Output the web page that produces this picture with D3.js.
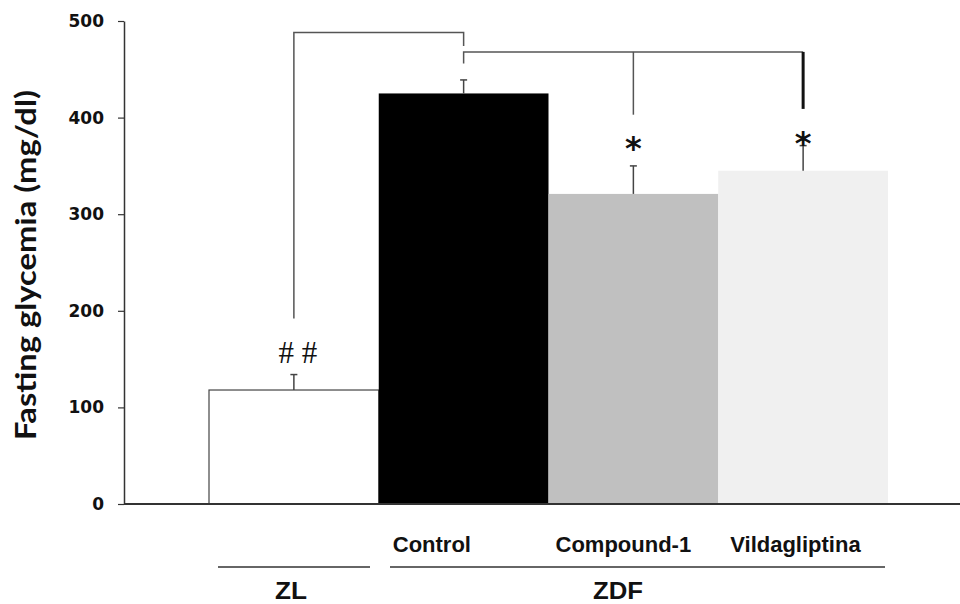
<!DOCTYPE html>
<html>
<head>
<meta charset="utf-8">
<script src="https://cdn.jsdelivr.net/npm/d3@7"></script>
<style>
  html, body { margin: 0; padding: 0; background: #fff; }
  svg { display: block; }
</style>
</head>
<body>
<svg id="chart" width="960" height="604"></svg>
<script>
// Fasting glycemia per group (mean and upper SEM, mg/dl)
const categories = ["ZL", "Control", "Compound-1", "Vildagliptina"];
const means = [118, 425, 321, 345];
const errors = [16, 14, 29, 26];
const barColors = ["#ffffff", "#000000", "#c0c0c0", "#f0f0f0"];
const yTicks = [0, 100, 200, 300, 400, 500];
const significance = ["# #", "", "*", "*"];
// level (mg/dl) at which each significance mark sits
const markLevels = [146, 0, 375, 380];

const svg = d3.select("#chart");

const y = d3.scaleLinear().domain([0, 500]).range([504, 21]);
const x = d3.scaleBand().domain(categories).range([209, 888]).padding(0);
const cx = c => x(c) + x.bandwidth() / 2;

// Bars
svg.append("g").selectAll("rect")
  .data(categories)
  .join("rect")
  .attr("x", c => x(c))
  .attr("y", (c, i) => y(means[i]))
  .attr("width", x.bandwidth())
  .attr("height", (c, i) => y(0) - y(means[i]))
  .attr("fill", (c, i) => barColors[i])
  .attr("stroke", (c, i) => i === 0 ? "#444" : "none")
  .attr("stroke-width", 1.2);

// Upper error bars with caps
const eb = svg.append("g").attr("stroke", "#444").attr("stroke-width", 1.5);
categories.forEach((c, i) => {
  const top = y(means[i] + errors[i]);
  eb.append("line").attr("x1", cx(c)).attr("x2", cx(c))
    .attr("y1", y(means[i])).attr("y2", top);
  eb.append("line").attr("x1", cx(c) - 3.5).attr("x2", cx(c) + 3.5)
    .attr("y1", top).attr("y2", top);
});

// Y axis
const yAxis = svg.append("g")
  .attr("transform", "translate(124,0)")
  .call(d3.axisLeft(y).tickValues(yTicks).tickSize(6).tickPadding(14).tickSizeOuter(0));
yAxis.select(".domain").attr("stroke", "#333").attr("stroke-width", 1.5);
yAxis.selectAll(".tick line").attr("stroke", "#333").attr("stroke-width", 1.2);
yAxis.selectAll(".tick text")
  .attr("font-family", "DejaVu Sans, Verdana, sans-serif")
  .attr("font-weight", "bold")
  .attr("font-size", 17)
  .attr("fill", "#111");

// Baseline
svg.append("line")
  .attr("x1", 124).attr("x2", 960)
  .attr("y1", y(0)).attr("y2", y(0))
  .attr("stroke", "#333").attr("stroke-width", 2);

// Y axis title
svg.append("text")
  .attr("transform", "translate(36,265) rotate(-90)")
  .attr("text-anchor", "middle")
  .attr("font-family", "Lato, 'Open Sans', sans-serif")
  .attr("font-weight", "bold")
  .attr("font-size", 29)
  .attr("textLength", 350)
  .attr("lengthAdjust", "spacingAndGlyphs")
  .attr("fill", "#111")
  .text("Fasting glycemia (mg/dl)");

// Comparison brackets (levels in mg/dl)
const br = svg.append("g").attr("fill", "none").attr("stroke", "#555").attr("stroke-width", 1.5);
const zl = cx("ZL"), ctl = cx("Control"), cmp = cx("Compound-1"), vil = cx("Vildagliptina");
br.append("path").attr("d",
  `M${zl},${y(192)} V${y(488)} H${ctl} V${y(474)}`);
br.append("path").attr("d",
  `M${ctl},${y(456)} V${y(468)} H${vil}`);
br.append("line").attr("x1", cmp).attr("x2", cmp).attr("y1", y(468)).attr("y2", y(403));
br.append("line").attr("x1", vil).attr("x2", vil).attr("y1", y(468)).attr("y2", y(409))
  .attr("stroke", "#111").attr("stroke-width", 3);

// Significance marks
svg.append("g").selectAll("text")
  .data(categories)
  .join("text")
  .attr("x", c => cx(c) + (c === "ZL" ? 4 : 0))
  .attr("y", (c, i) => y(markLevels[i]) + (c === "ZL" ? 0 : 17))
  .attr("text-anchor", "middle")
  .attr("font-family", c => c === "ZL" ? "Liberation Serif, serif" : "DejaVu Sans, sans-serif")
  .attr("font-weight", c => c === "ZL" ? "normal" : "bold")
  .attr("font-size", c => c === "ZL" ? 31 : 32)
  .attr("fill", "#111")
  .text((c, i) => significance[i]);

// Category labels (left-aligned inside each bar slot)
const labelInset = { "Control": 14, "Compound-1": 7, "Vildagliptina": 12 };
const lab = svg.append("g")
  .attr("font-family", "Liberation Sans, Arial, sans-serif")
  .attr("font-weight", "bold")
  .attr("fill", "#111");
lab.selectAll("text.cat")
  .data(categories.slice(1))
  .join("text")
  .attr("class", "cat")
  .attr("x", c => x(c) + labelInset[c])
  .attr("y", 552)
  .attr("font-size", 22)
  .text(d => d);

// Group lines and labels
const groups = [
  { name: "ZL", x1: 218, x2: 370, cx: 291, w: 32 },
  { name: "ZDF", x1: 390, x2: 885, cx: 618, w: 50 }
];
svg.append("g").selectAll("line")
  .data(groups)
  .join("line")
  .attr("x1", d => d.x1).attr("x2", d => d.x2)
  .attr("y1", 567).attr("y2", 567)
  .attr("stroke", "#333").attr("stroke-width", 1.5);
lab.selectAll("text.grp")
  .data(groups)
  .join("text")
  .attr("class", "grp")
  .attr("x", d => d.cx - d.w / 2)
  .attr("y", 599)
  .attr("font-size", 23)
  .attr("textLength", d => d.w)
  .attr("lengthAdjust", "spacingAndGlyphs")
  .text(d => d.name);
</script>
</body>
</html>
